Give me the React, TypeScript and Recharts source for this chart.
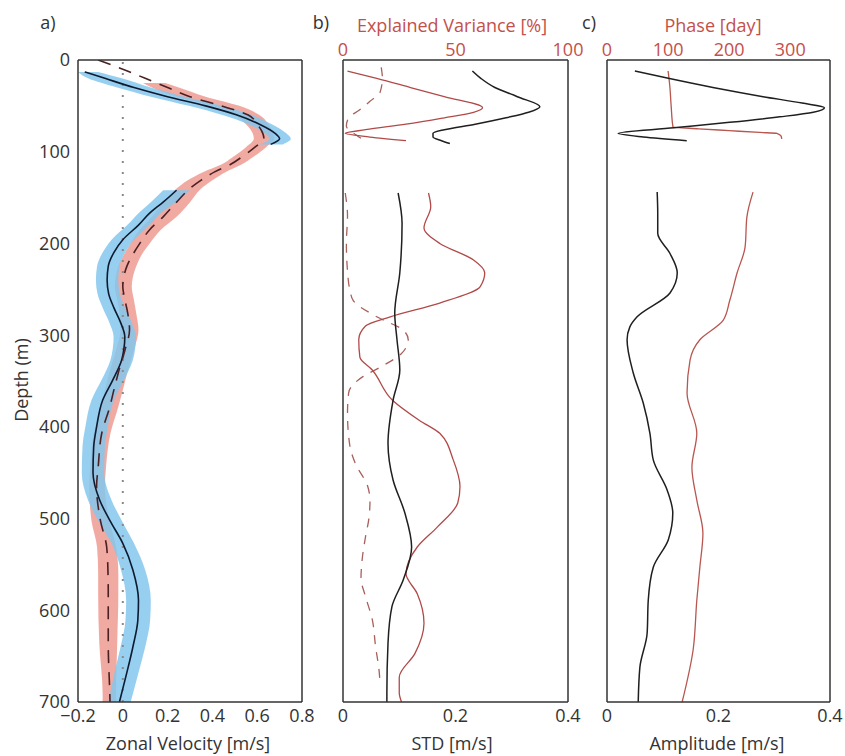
import { ComposedChart, Line, Area, XAxis, YAxis, ReferenceLine } from 'recharts';

// ---------- shared ticks ----------
const depthTicks = [0, 100, 200, 300, 400, 500, 600, 700];
const velTicks = [-0.2, 0, 0.2, 0.4, 0.6, 0.8];
const stdTicks = [0, 0.2, 0.4];
const evTicks = [0, 50, 100];
const ampTicks = [0, 0.2, 0.4];
const phaseTicks = [0, 100, 200, 300];

// ---------- panel a: zonal velocity ----------
// model (solid black + blue band), upper part
const modelTopDepth = [13, 20, 30, 40, 50, 60, 70, 80, 86, 92];
const modelTopVel = [-0.17, -0.08, 0.05, 0.2, 0.37, 0.51, 0.61, 0.68, 0.7, 0.66];
const blueTopLo = [-0.2, -0.155, -0.025, 0.125, 0.295, 0.445, 0.56, 0.635, 0.655, 0.61];
const blueTopHi = [-0.11, -0.005, 0.125, 0.275, 0.445, 0.575, 0.665, 0.73, 0.75, 0.715];

// model, lower part
const modelLowDepth = [142, 155, 167, 180, 196, 210, 225, 240, 255, 270, 285, 302, 315, 327, 349, 371, 400, 422, 450, 480, 502, 527, 556, 589, 611, 640, 668, 700];
const modelLowVel = [0.24, 0.18, 0.12, 0.07, 0.0, -0.04, -0.065, -0.07, -0.063, -0.04, -0.012, 0.009, 0.005, -0.005, -0.045, -0.09, -0.117, -0.13, -0.133, -0.103, -0.058, 0, 0.045, 0.07, 0.067, 0.045, 0.018, -0.015];
const blueLowLo = [0.18, 0.125, 0.07, 0.02, -0.05, -0.09, -0.115, -0.12, -0.113, -0.09, -0.062, -0.041, -0.045, -0.055, -0.095, -0.14, -0.167, -0.18, -0.183, -0.155, -0.11, -0.05, -0.008, 0.015, 0.012, -0.01, -0.037, -0.065];
const blueLowHi = [0.3, 0.235, 0.17, 0.12, 0.05, 0.01, -0.015, -0.02, -0.013, 0.01, 0.038, 0.059, 0.055, 0.045, 0.005, -0.04, -0.067, -0.08, -0.083, -0.05, -0.005, 0.05, 0.1, 0.125, 0.122, 0.1, 0.07, 0.035];

// observations (dashed + red band)
const obsDepth = [0, 10, 20, 30, 40, 50, 60, 70, 80, 86, 95, 106, 114, 122, 131, 140, 155, 171, 185, 200, 212, 225, 247, 262, 276, 294, 316, 341, 360, 378, 407, 444, 465, 502, 531, 560, 582, 636, 691, 700];
const obsVel = [-0.11, 0.0, 0.1, 0.2, 0.3, 0.44, 0.56, 0.6, 0.625, 0.63, 0.59, 0.53, 0.48, 0.41, 0.35, 0.3, 0.24, 0.18, 0.12, 0.076, 0.045, 0.018, 0.0, 0.01, 0.022, 0.03, 0.01, -0.02, -0.04, -0.058, -0.094, -0.11, -0.117, -0.1, -0.072, -0.066, -0.065, -0.065, -0.058, -0.057];
const redDepth = [25, 30, 40, 50, 60, 70, 80, 86, 95, 106, 114, 122, 131, 140, 155, 171, 185, 200, 212, 225, 247, 262, 276, 294, 316, 341, 360, 378, 407, 444, 465, 502, 531, 560, 582, 636, 691, 700];
const redLo = [0.09, 0.13, 0.24, 0.4, 0.5, 0.55, 0.58, 0.585, 0.55, 0.49, 0.44, 0.36, 0.29, 0.24, 0.18, 0.13, 0.075, 0.035, 0.005, -0.02, -0.035, -0.025, -0.015, -0.01, -0.03, -0.06, -0.08, -0.095, -0.13, -0.145, -0.15, -0.14, -0.115, -0.11, -0.11, -0.105, -0.09, -0.09];
const redHi = [0.19, 0.25, 0.37, 0.52, 0.61, 0.65, 0.67, 0.675, 0.64, 0.58, 0.53, 0.46, 0.4, 0.35, 0.3, 0.24, 0.17, 0.12, 0.085, 0.06, 0.04, 0.05, 0.06, 0.07, 0.05, 0.02, 0.0, -0.02, -0.055, -0.075, -0.08, -0.06, -0.03, -0.02, -0.02, -0.025, -0.03, -0.03];

// ---------- panel b: STD and explained variance ----------
const stdTopDepth = [12, 20, 30, 40, 51, 57, 63, 70, 76, 80, 84, 88, 91];
const stdTop = [0.23, 0.245, 0.27, 0.31, 0.35, 0.33, 0.29, 0.235, 0.18, 0.16, 0.16, 0.175, 0.19];
const stdLowDepth = [145, 178, 232, 276, 305, 338, 371, 418, 458, 494, 531, 567, 596, 636, 690, 700];
const stdLow = [0.098, 0.105, 0.101, 0.092, 0.096, 0.101, 0.089, 0.08, 0.089, 0.11, 0.122, 0.107, 0.087, 0.08, 0.078, 0.078];

const evTopDepth = [12, 20, 30, 40, 52, 57, 63, 70, 76, 80, 84, 88];
const evTop = [2, 15, 30, 45, 62, 58, 45, 28, 10, 1, 12, 28];
const evLowDepth = [145, 160, 183, 200, 218, 232, 247, 265, 280, 290, 305, 324, 338, 371, 393, 407, 436, 465, 483, 509, 531, 560, 582, 614, 647, 673, 690, 700];
const evLow = [38, 39, 36, 43, 58, 63, 61, 43, 21, 10, 7, 7.5, 13, 22, 34, 43, 49, 52, 51, 42, 33, 28, 33, 36, 32, 25, 25, 26];

const ev2TopDepth = [8, 20, 35, 45, 55, 63, 72, 82, 87];
const ev2Top = [17, 17.5, 16.5, 12, 7, 2.5, 1.5, 6, 9];
const ev2LowDepth = [145, 170, 200, 230, 250, 262, 280, 295, 305, 320, 335, 345, 363, 385, 420, 440, 465, 480, 500, 520, 545, 565, 585, 610, 640, 665, 680];
const ev2Low = [1, 2, 1.5, 2, 3, 4.5, 15, 27, 29, 26, 16.5, 9, 2.5, 2, 3, 5.5, 11, 12, 11.5, 10, 8.5, 8, 10, 13, 14.5, 16, 16.5];

// ---------- panel c: amplitude and phase ----------
const ampTopDepth = [12, 20, 30, 40, 47, 52, 57, 62, 68, 74, 80, 84, 88];
const ampTop = [0.05, 0.11, 0.19, 0.28, 0.35, 0.39, 0.37, 0.31, 0.22, 0.12, 0.02, 0.065, 0.143];
const ampLowDepth = [144, 167, 189, 211, 232, 254, 280, 291, 305, 341, 374, 407, 436, 469, 494, 523, 553, 589, 625, 662, 700];
const ampLow = [0.09, 0.091, 0.091, 0.113, 0.126, 0.113, 0.054, 0.041, 0.036, 0.047, 0.065, 0.077, 0.083, 0.108, 0.118, 0.11, 0.083, 0.074, 0.072, 0.059, 0.056];

const phaseTopDepth = [12, 30, 50, 73, 75, 77, 79, 80, 83, 86];
const phaseTop = [100, 103, 105, 108, 150, 200, 250, 278, 285, 286];
const phaseLowDepth = [144, 171, 204, 232, 262, 284, 305, 327, 363, 407, 444, 480, 516, 553, 589, 643, 700];
const phaseLow = [239, 229, 226, 213, 201, 190, 152, 136, 131, 147, 139, 147, 157, 152, 147, 141, 123];

const zip = (depths: number[], vals: number[]) => depths.map((d, i) => ({ d, v: vals[i] }));
const band = (depths: number[], lo: number[], hi: number[]) => depths.map((d, i) => ({ d, r: [lo[i], hi[i]] }));

const FONT = "'Open Sans', sans-serif";
const RED = '#c4504a';
const axisStyle = { stroke: '#333', strokeWidth: 1.5 };
const tickStyle = { stroke: '#333', strokeWidth: 1.2 };
const tickFont = { fontFamily: FONT, fontSize: 18, fill: '#333' };
const redTickFont = { fontFamily: FONT, fontSize: 18, fill: RED };

// axes that draw the frame and inward ticks (no labels)
const frameAxis = {
  type: 'number' as const, axisLine: axisStyle, tickLine: tickStyle, tickSize: -5,
  tick: false, interval: 0, allowDataOverflow: true,
};
// axes that only draw the tick labels
const labelAxis = {
  type: 'number' as const, axisLine: false, tickLine: false, tickSize: 0,
  interval: 0, allowDataOverflow: true,
};

const fmt = (v: number) => (v < 0 ? '\u2212' + Math.abs(v) : String(v));

const lineProps = { dot: false, activeDot: false, isAnimationActive: false, yAxisId: 'L', type: 'monotone' as const };

function PanelA() {
  return (
    <ComposedChart layout="vertical" width={320} height={756} margin={{ top: 30, right: 17, bottom: 24, left: 33 }}>
      <XAxis xAxisId="bot" orientation="bottom" height={1} domain={[-0.2, 0.8]} ticks={velTicks} {...frameAxis} />
      <XAxis xAxisId="botLab" orientation="bottom" height={29} domain={[-0.2, 0.8]} ticks={velTicks} {...labelAxis}
        tickMargin={6} tickFormatter={fmt} tick={tickFont} />
      <XAxis xAxisId="top" orientation="top" height={30} domain={[-0.2, 0.8]} ticks={velTicks} {...frameAxis} />
      <YAxis yAxisId="L" dataKey="d" width={1} domain={[0, 700]} ticks={depthTicks} {...frameAxis} />
      <YAxis yAxisId="Llab" dataKey="d" width={44} domain={[0, 700]} ticks={depthTicks} {...labelAxis}
        tickMargin={7} tick={tickFont} />
      <YAxis yAxisId="R" orientation="right" dataKey="d" width={1} domain={[0, 700]} ticks={depthTicks} {...frameAxis} />

      <Area data={band(redDepth, redLo, redHi)} dataKey="r" xAxisId="bot" yAxisId="L" type="monotone"
        fill="#eea197" fillOpacity={0.9} stroke="none" isAnimationActive={false} />
      <Area data={band(modelTopDepth, blueTopLo, blueTopHi)} dataKey="r" xAxisId="bot" yAxisId="L" type="monotone"
        fill="#84c7ec" fillOpacity={0.85} stroke="none" isAnimationActive={false} />
      <Area data={band(modelLowDepth, blueLowLo, blueLowHi)} dataKey="r" xAxisId="bot" yAxisId="L" type="monotone"
        fill="#84c7ec" fillOpacity={0.85} stroke="none" isAnimationActive={false} />

      <ReferenceLine x={0} xAxisId="bot" yAxisId="L" stroke="#8a8a8a" strokeWidth={2} strokeDasharray="2 9" />

      <Line {...lineProps} data={zip(modelTopDepth, modelTopVel)} dataKey="v" xAxisId="bot" stroke="#0e1a30" strokeWidth={1.6} />
      <Line {...lineProps} data={zip(modelLowDepth, modelLowVel)} dataKey="v" xAxisId="bot" stroke="#0e1a30" strokeWidth={1.6} />
      <Line {...lineProps} data={zip(obsDepth, obsVel)} dataKey="v" xAxisId="bot" stroke="#4a2024" strokeWidth={1.6} strokeDasharray="13 9" />
    </ComposedChart>
  );
}

function PanelB() {
  return (
    <ComposedChart layout="vertical" width={270} height={756} margin={{ top: 30, right: 21, bottom: 24, left: 22 }}>
      <XAxis xAxisId="std" orientation="bottom" height={1} domain={[0, 0.4]} ticks={stdTicks} {...frameAxis} />
      <XAxis xAxisId="stdLab" orientation="bottom" height={29} domain={[0, 0.4]} ticks={stdTicks} {...labelAxis}
        tickMargin={6} tick={tickFont} />
      <XAxis xAxisId="ev" orientation="top" height={1} domain={[0, 100]} ticks={evTicks} {...frameAxis}
        tickLine={{ stroke: RED, strokeWidth: 1.2 }} />
      <XAxis xAxisId="evLab" orientation="top" height={29} domain={[0, 100]} ticks={evTicks} {...labelAxis}
        tickMargin={3} tick={redTickFont} />
      <YAxis yAxisId="L" dataKey="d" width={1} domain={[0, 700]} ticks={depthTicks} {...frameAxis} />
      <YAxis yAxisId="R" orientation="right" dataKey="d" width={1} domain={[0, 700]} ticks={depthTicks} {...frameAxis} />

      <Line {...lineProps} data={zip(ev2TopDepth, ev2Top)} dataKey="v" xAxisId="ev" stroke="#a8605c" strokeWidth={1.3} strokeDasharray="9 8" />
      <Line {...lineProps} data={zip(ev2LowDepth, ev2Low)} dataKey="v" xAxisId="ev" stroke="#a8605c" strokeWidth={1.3} strokeDasharray="9 8" />
      <Line {...lineProps} data={zip(evTopDepth, evTop)} dataKey="v" xAxisId="ev" stroke="#b04a48" strokeWidth={1.3} />
      <Line {...lineProps} data={zip(evLowDepth, evLow)} dataKey="v" xAxisId="ev" stroke="#b04a48" strokeWidth={1.3} />
      <Line {...lineProps} data={zip(stdTopDepth, stdTop)} dataKey="v" xAxisId="std" stroke="#1f1f1f" strokeWidth={1.5} />
      <Line {...lineProps} data={zip(stdLowDepth, stdLow)} dataKey="v" xAxisId="std" stroke="#1f1f1f" strokeWidth={1.5} />
    </ComposedChart>
  );
}

function PanelC() {
  return (
    <ComposedChart layout="vertical" width={255} height={756} margin={{ top: 30, right: 14, bottom: 24, left: 16 }}>
      <XAxis xAxisId="amp" orientation="bottom" height={1} domain={[0, 0.4]} ticks={ampTicks} {...frameAxis} />
      <XAxis xAxisId="ampLab" orientation="bottom" height={29} domain={[0, 0.4]} ticks={ampTicks} {...labelAxis}
        tickMargin={6} tick={tickFont} />
      <XAxis xAxisId="ph" orientation="top" height={1} domain={[0, 365]} ticks={phaseTicks} {...frameAxis} />
      <XAxis xAxisId="phLab" orientation="top" height={29} domain={[0, 365]} ticks={phaseTicks} {...labelAxis}
        tickMargin={3} tick={redTickFont} />
      <YAxis yAxisId="L" dataKey="d" width={1} domain={[0, 700]} ticks={depthTicks} {...frameAxis} />
      <YAxis yAxisId="R" orientation="right" dataKey="d" width={1} domain={[0, 700]} ticks={depthTicks} {...frameAxis} />

      <Line {...lineProps} data={zip(phaseTopDepth, phaseTop)} dataKey="v" xAxisId="ph" stroke="#b85650" strokeWidth={1.3} />
      <Line {...lineProps} data={zip(phaseLowDepth, phaseLow)} dataKey="v" xAxisId="ph" stroke="#b85650" strokeWidth={1.3} />
      <Line {...lineProps} data={zip(ampTopDepth, ampTop)} dataKey="v" xAxisId="amp" stroke="#1f1f1f" strokeWidth={1.5} />
      <Line {...lineProps} data={zip(ampLowDepth, ampLow)} dataKey="v" xAxisId="amp" stroke="#1f1f1f" strokeWidth={1.5} />
    </ComposedChart>
  );
}

const label = (x: number, y: number, color = '#333'): React.CSSProperties => ({
  position: 'absolute', left: x, top: y, transform: 'translate(-50%, -50%)',
  fontFamily: FONT, fontSize: 18, lineHeight: '22px', color, whiteSpace: 'nowrap',
});

export default function App() {
  return (
    <div style={{ position: 'absolute', left: 0, top: 0, width: 845, height: 756, background: '#fff', overflow: 'hidden' }}>
      <div style={{ position: 'absolute', left: 0, top: 0 }}><PanelA /></div>
      <div style={{ position: 'absolute', left: 320, top: 0 }}><PanelB /></div>
      <div style={{ position: 'absolute', left: 590, top: 0 }}><PanelC /></div>

      <div style={label(48, 22)}>a)</div>
      <div style={label(321, 22)}>b)</div>
      <div style={label(589, 22)}>c)</div>
      <div style={label(452, 25, RED)}>Explained Variance [%]</div>
      <div style={label(713, 25, RED)}>Phase [day]</div>
      <div style={label(188, 743)}>Zonal Velocity [m/s]</div>
      <div style={label(452, 743)}>STD [m/s]</div>
      <div style={label(717, 743)}>Amplitude [m/s]</div>
      <div style={{ ...label(21, 380), transform: 'translate(-50%, -50%) rotate(-90deg)' }}>Depth (m)</div>
    </div>
  );
}
